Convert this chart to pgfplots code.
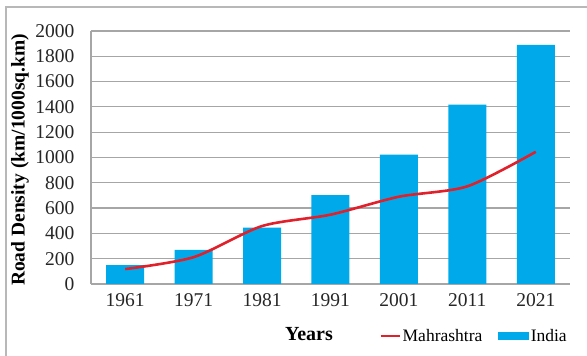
\documentclass[border=0pt]{standalone}
\usepackage{pgfplots}
\pgfplotsset{compat=1.18}
\usepackage{fontspec}
\setmainfont{Liberation Serif}
\definecolor{barblue}{HTML}{00AAEA}
\definecolor{linered}{HTML}{E0202A}
\definecolor{gridgray}{HTML}{A6A6A6}
\begin{document}
\begin{tikzpicture}[x=1pt,y=1pt]
\useasboundingbox (0,0) rectangle (587,356);
\draw[gridgray!80, line width=1.5pt] (6,-10) -- (6,349) -- (620,349);
\begin{axis}[
  at={(91pt,72pt)}, anchor=south west,
  scale only axis, width=479pt, height=253pt,
  xmin=-0.5, xmax=6.5, ymin=0, ymax=2000,
  ytick={0,200,...,2000},
  xtick={0,...,6},
  xticklabels={1961,1971,1981,1991,2001,2011,2021},
  major tick length=0pt,
  axis x line*=bottom, axis y line*=left,
  axis line style={gridgray, line width=1.2pt},
  ymajorgrids, grid style={gridgray, line width=1.2pt},
  /pgf/number format/assume math mode=true,
  /pgf/number format/1000 sep={},
  tick label style={font=\rmfamily\fontsize{19.5}{21}\selectfont, text=black!85},
  yticklabel style={xshift=-13pt},
  xticklabel style={yshift=-6pt},
  legend style={at={(0.80,-0.205)}, anchor=center, draw=none, fill=none,
    legend columns=2, font=\rmfamily\fontsize{17.5}{20}\selectfont,
    /tikz/every even column/.append style={column sep=14pt}},
  clip=false,
]
\addplot[draw=none, fill=barblue, ybar, bar width=38pt, bar shift=0pt,
  forget plot] coordinates {
  (0,150) (1,270) (2,445) (3,703) (4,1022) (5,1417) (6,1890)};
\addplot[linered, line width=2.6pt, smooth, tension=0.45, no markers,
  legend image code/.code={\draw[linered, line width=2pt] (-2pt,0) -- (17pt,0);}] coordinates {
  (0,118) (1,212) (2,458) (3,548) (4,690) (5,772) (6,1045)};
\addlegendentry{Mahrashtra}
\addlegendimage{legend image code/.code={\fill[barblue] (-6pt,-3pt) rectangle (24pt,3.5pt);}}
\addlegendentry{India}
\end{axis}
\node[font=\fontsize{19.5}{21}\selectfont\bfseries, rotate=90] at (20,196) {Road Density (km/1000sq.km)};
\node[font=\fontsize{20}{22}\selectfont\bfseries] at (309,22) {Years};
\end{tikzpicture}
\end{document}
